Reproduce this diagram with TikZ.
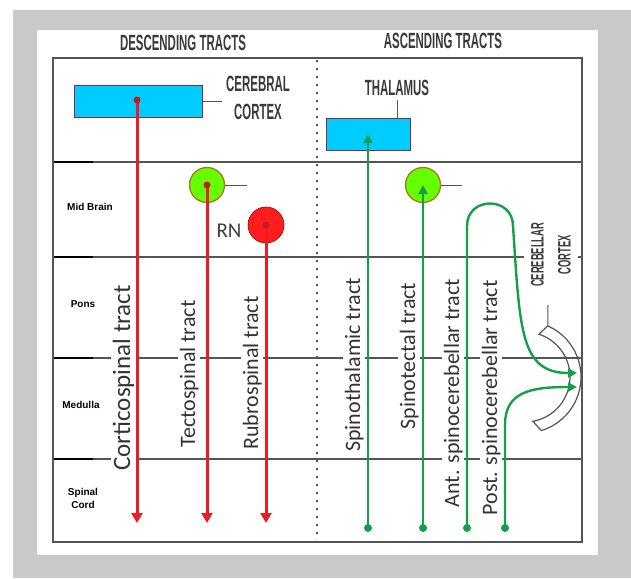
\documentclass[tikz,border=0pt]{standalone}
\usepackage{fontspec}
\setmainfont{Carlito}
\newfontfamily\narrowfont[FakeStretch=0.52]{Liberation Sans}
\newfontfamily\rowfont{Liberation Sans}
\usetikzlibrary{arrows.meta,calc}

\definecolor{panelgray}{HTML}{C9C9C9}
\definecolor{linegray}{HTML}{555555}
\definecolor{headgray}{HTML}{3A3A3A}
\definecolor{cortexblue}{HTML}{00CCFF}
\definecolor{boxedge}{HTML}{8A2846}
\definecolor{tractred}{HTML}{EC1C24}
\definecolor{tractgreen}{HTML}{14A04A}
\definecolor{tectumgreen}{HTML}{66FF00}
\definecolor{tectumedge}{HTML}{A8781C}
\definecolor{nucleusred}{HTML}{FF1E1E}

\tikzstyle{every node}=[inner sep=1.5pt]
\tikzstyle{outerframe}=[draw=linegray,line width=1.8pt]
\tikzstyle{levelline}=[draw=linegray,line width=1.2pt]
\tikzstyle{levelmark}=[draw=black,line width=2.6pt]
\tikzstyle{divider}=[draw=linegray,line width=2pt,dash pattern=on 2pt off 6pt]
\tikzstyle{heading}=[font=\narrowfont\bfseries\fontsize{22}{28}\selectfont,text=headgray,inner sep=4pt,align=center]
\tikzstyle{rowlabel}=[font=\rowfont\bfseries\fontsize{10}{13}\selectfont,align=center]
\tikzstyle{tractlabel}=[rotate=90,anchor=base,fill=white,text=black!80,font=\fontsize{22}{24}\selectfont]
\tikzstyle{nucleusbox}=[draw=boxedge,fill=cortexblue,line width=1pt,minimum height=32pt]
\tikzstyle{tectum}=[circle,draw=tectumedge,fill=tectumgreen,line width=1.3pt,minimum size=35pt,inner sep=0pt]
\tikzstyle{rednucleus}=[circle,draw=red!60!black,fill=nucleusred,line width=0.6pt,minimum size=36pt,inner sep=0pt]
\tikzstyle{descending}=[draw=tractred,line width=3pt,-{Triangle[width=11pt,length=10pt]}]
\tikzstyle{ascending}=[draw=tractgreen,line width=2.4pt,-{Triangle[width=9pt,length=9pt]}]
\tikzstyle{leader}=[draw=linegray,line width=1pt]

\begin{document}
\begin{tikzpicture}[x=1pt,y=-1pt]
	\useasboundingbox (0,0) rectangle (631,578);
	\fill[white] (0,0) rectangle (631,578);
	\fill[panelgray] (13,10) rectangle (631,578);
	\fill[white] (37,30) rectangle (598,555);

	\foreach \y in {162,257,358,459}{
		\draw[levelline] (53,\y) -- (582,\y);
		\draw[levelmark] (53,\y) -- (93,\y);
	}
	\draw[divider] (317,60) -- (317,540);
	\draw[outerframe] (53,58) rectangle (582,542);

	\node[heading] (desc) at (183,43) {DESCENDING TRACTS};
	\node[heading] (asc) at (443,41) {ASCENDING TRACTS};

	\node[rowlabel] (midbrain) at (90,207) {Mid Brain};
	\node[rowlabel] (pons) at (83,304) {Pons};
	\node[rowlabel] (medulla) at (81,405) {Medulla};
	\node[rowlabel] (cord) at (83,498) {Spinal\\Cord};

	\node[tractlabel,font=\fontsize{25}{27}\selectfont] (cst) at (130,378) {Corticospinal tract};
	\node[tractlabel] (tst) at (195,374) {Tectospinal tract};
	\node[tractlabel] (rst) at (258,373) {Rubrospinal tract};
	\node[tractlabel] (stt) at (360,365) {Spinothalamic tract};
	\node[tractlabel] (stct) at (415,356) {Spinotectal tract};
	\node[tractlabel] (asct) at (459,393) {Ant. spinocerebellar tract};
	\node[tractlabel] (psct) at (497,398) {Post. spinocerebellar tract};
	\node[heading,rotate=90,fill=white,inner sep=7pt,font=\narrowfont\bfseries\fontsize{18}{27}\selectfont] (cblabel) at (551,255) {CEREBELLAR\\CORTEX};

	\node[nucleusbox,minimum width=128pt] (cortex) at (138,101) {};
	\node[heading] (cortexlabel) at (258,98) {CEREBRAL\\CORTEX};
	\node[nucleusbox,minimum width=84pt] (thalamus) at (368,134) {};
	\node[heading] (thallabel) at (397,88) {THALAMUS};
	\node[tectum] (tectumL) at (207,185) {};
	\node[tectum] (tectumR) at (423,185) {};
	\node[rednucleus] (rn) at (266,225) {};
	\node[font=\fontsize{21}{23}\selectfont,text=black!75] (rnlabel) at (229,231) {RN};

	\draw[leader] (cortex.east) -- (cortexlabel.west |- cortex.east);
	\draw[leader] (thalamus.north -| thallabel.south) -- (thallabel.south);
	\coordinate (tectumLtag) at (247,185);
	\coordinate (tectumRtag) at (462,185);
	\draw[leader] (tectumL) -- (tectumLtag);
	\draw[leader] (tectumR) -- (tectumRtag);

	% cerebellar cortex
	\coordinate (cbc) at (525,377);
	\draw[linegray,line width=1.2pt] ($(cbc)+(-66:56)$) arc[start angle=-66,end angle=73,radius=56]
		-- ($(cbc)+(80:45)$) arc[start angle=80,end angle=-72,radius=45] -- cycle;
	\coordinate (cbtop) at ($(cbc)+(-66:56)$);
	\coordinate (cbtag) at (548,305);
	\draw[leader] (cbtop) -- (cbtag);

	% descending
	\coordinate (csTop) at (137,100);
	\coordinate (csEnd) at (137,523);
	\coordinate (tsEnd) at (207,523);
	\coordinate (rsEnd) at (266,523);
	\draw[descending] (csTop) -- (csEnd);
	\draw[descending] (tectumL.center) -- (tsEnd);
	\draw[descending] (rn.center) -- (rsEnd);
	\fill[tractred!85!black] (csTop) circle (3.5) (tectumL.center) circle (3.5) (rn.center) circle (3.5);

	% ascending
	\coordinate (sttStart) at (368,528);
	\coordinate (stctStart) at (423,528);
	\coordinate (asctStart) at (467,528);
	\coordinate (psctStart) at (505,528);
	\coordinate (asctEnd) at (577,373);
	\coordinate (psctEnd) at (577,387);
	\draw[ascending] (sttStart) -- (thalamus.center);
	\draw[ascending] (stctStart) -- (tectumR.center);
	\draw[ascending] (asctStart) -- (467,226) .. controls (467,196) and (513,196) .. (513,226)
		.. controls (520,330) and (520,373) .. (asctEnd);
	\draw[ascending] (psctStart) -- (505,425) .. controls (505,392) and (530,387) .. (psctEnd);
	\fill[tractgreen] (sttStart) circle (4) (stctStart) circle (4) (asctStart) circle (4) (psctStart) circle (4);
\end{tikzpicture}
\end{document}
